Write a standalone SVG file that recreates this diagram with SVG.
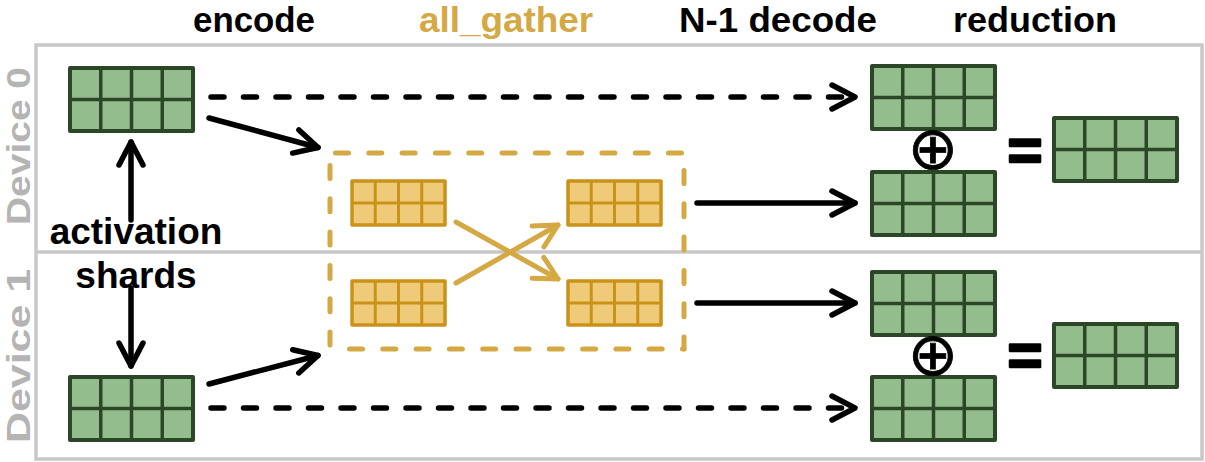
<svg xmlns="http://www.w3.org/2000/svg" xmlns:xlink="http://www.w3.org/1999/xlink" width="1205" height="462" viewBox="0 0 1205 462">
<style>
  .hdr{font-family:"Liberation Sans",Arial,sans-serif;font-weight:bold;font-size:34.5px;text-anchor:middle;fill:#000}
  .gold{fill:#D4A843}
  .dev{font-family:"Liberation Sans",Arial,sans-serif;font-weight:bold;font-size:32.5px;text-anchor:middle;fill:#B4B4B4}
  .lbl{font-family:"Liberation Sans",Arial,sans-serif;font-weight:bold;font-size:37px;text-anchor:middle;fill:#000}
  .sym{font-family:"Liberation Sans",Arial,sans-serif;font-weight:bold;font-size:60px;text-anchor:middle;fill:#000;stroke:#000;stroke-width:2.5;stroke-linejoin:round}
  .op{font-family:"DejaVu Sans",sans-serif;font-size:60px;text-anchor:middle;fill:#000;stroke:#000;stroke-width:0.8}
  .gcell{fill:#93BD8C;stroke:#2C4727;stroke-width:4;stroke-linejoin:round}
  .gline{stroke:#2C4727;stroke-width:3.5}
  .ycell{fill:#EFCA78;stroke:#C9931A;stroke-width:3.5;stroke-linejoin:round}
  .yline{stroke:#C9931A;stroke-width:3}
  .blk{fill:none;stroke:#000;stroke-width:5.5;stroke-linecap:round}
  .dash{stroke-dasharray:13 19.5}
  .gld{fill:none;stroke:#D4A843;stroke-width:5;stroke-linecap:round}
  .gbox{fill:none;stroke:#D4A843;stroke-width:5;stroke-linecap:round;stroke-dasharray:13 20.3}
  .frame{fill:none;stroke:#C8C8C8;stroke-width:3.5}
</style>
<defs>
  <g id="gblock">
    <rect class="gcell" x="0" y="0" width="123" height="63"/>
    <line class="gline" x1="30.75" y1="0" x2="30.75" y2="63"/>
    <line class="gline" x1="61.5" y1="0" x2="61.5" y2="63"/>
    <line class="gline" x1="92.25" y1="0" x2="92.25" y2="63"/>
    <line class="gline" x1="0" y1="31.5" x2="123" y2="31.5"/>
  </g>
  <g id="yblock">
    <rect class="ycell" x="0" y="0" width="93" height="44"/>
    <line class="yline" x1="23.25" y1="0" x2="23.25" y2="44"/>
    <line class="yline" x1="46.5" y1="0" x2="46.5" y2="44"/>
    <line class="yline" x1="69.75" y1="0" x2="69.75" y2="44"/>
    <line class="yline" x1="0" y1="22" x2="93" y2="22"/>
  </g>
  <marker id="ah" markerUnits="userSpaceOnUse" viewBox="-30 -16 34 32" refX="0" refY="0" markerWidth="34" markerHeight="32" orient="auto" overflow="visible">
    <path d="M-23,-12 L0,0 L-23,12" fill="none" stroke="#000" stroke-width="5.5" stroke-linecap="round" stroke-linejoin="round" stroke-dasharray="none"/>
  </marker>
  <marker id="ahg" markerUnits="userSpaceOnUse" viewBox="-30 -16 34 32" refX="0" refY="0" markerWidth="34" markerHeight="32" orient="auto" overflow="visible">
    <path d="M-23,-12 L0,0 L-23,12" fill="none" stroke="#D4A843" stroke-width="5" stroke-linecap="round" stroke-linejoin="round" stroke-dasharray="none"/>
  </marker>
</defs>

<rect width="1205" height="462" fill="#fff"/>

<g id="frame">
  <rect class="frame" x="36" y="45" width="1166" height="414"/>
  <line class="frame" x1="36" y1="252" x2="1202" y2="252"/>
  <text class="dev" transform="translate(29.5,146) rotate(-90)" textLength="158" lengthAdjust="spacingAndGlyphs">Device 0</text>
  <text class="dev" transform="translate(29.5,356) rotate(-90)" textLength="174" lengthAdjust="spacingAndGlyphs">Device 1</text>
</g>

<g id="headers">
  <text class="hdr" x="254" y="31.5" textLength="122" lengthAdjust="spacingAndGlyphs">encode</text>
  <text class="hdr gold" x="506" y="31.5" textLength="174" lengthAdjust="spacingAndGlyphs">all_gather</text>
  <text class="hdr" x="778" y="31.5" textLength="198" lengthAdjust="spacingAndGlyphs">N-1 decode</text>
  <text class="hdr" x="1035" y="31.5" textLength="164" lengthAdjust="spacingAndGlyphs">reduction</text>
</g>

<g id="label-activation">
  <text class="lbl" x="136" y="244">activation</text>
  <text class="lbl" x="136" y="288">shards</text>
</g>

<g id="allgather-box">
  <line class="gbox" x1="335.5" y1="153" x2="684" y2="153"/>
  <line class="gbox" x1="330" y1="165.5" x2="330" y2="349"/>
  <line class="gbox" x1="349.5" y1="349" x2="684" y2="349"/>
  <line class="gbox" x1="684" y1="170.5" x2="684" y2="349"/>
</g>

<g id="shard0"><use xlink:href="#gblock" x="70" y="68"/></g>
<g id="shard1"><use xlink:href="#gblock" x="70" y="377"/></g>

<g id="enc0"><use xlink:href="#yblock" x="352" y="181"/></g>
<g id="enc1"><use xlink:href="#yblock" x="352" y="281"/></g>
<g id="gath0"><use xlink:href="#yblock" x="568" y="181"/></g>
<g id="gath1"><use xlink:href="#yblock" x="568" y="281"/></g>

<g id="dev0-local"><use xlink:href="#gblock" x="872" y="66"/></g>
<g id="dev0-decoded"><use xlink:href="#gblock" x="872" y="172"/></g>
<g id="dev1-decoded"><use xlink:href="#gblock" x="872" y="272"/></g>
<g id="dev1-local"><use xlink:href="#gblock" x="872" y="377"/></g>

<g id="sum0">
  <text class="op" x="933" y="168.5">⊕</text>
  <text class="sym" x="1025" y="170">=</text>
</g>
<g id="sum1">
  <text class="op" x="933" y="374.5">⊕</text>
  <text class="sym" x="1025" y="375">=</text>
</g>

<g id="result0"><use xlink:href="#gblock" x="1054" y="118"/></g>
<g id="result1"><use xlink:href="#gblock" x="1054" y="324"/></g>

<g id="connectors">
  <line class="blk" x1="131" y1="220" x2="131" y2="142" marker-end="url(#ah)"/>
  <line class="blk" x1="131" y1="288" x2="131" y2="366" marker-end="url(#ah)"/>
  <line class="blk dash" x1="211" y1="97" x2="855" y2="97" marker-end="url(#ah)"/>
  <line class="blk dash" x1="211" y1="408" x2="855" y2="408" marker-end="url(#ah)"/>
  <line class="blk" x1="209" y1="118" x2="318" y2="147.5" marker-end="url(#ah)"/>
  <line class="blk" x1="209" y1="384" x2="318" y2="355.5" marker-end="url(#ah)"/>
  <line class="blk" x1="697" y1="203" x2="855" y2="203" marker-end="url(#ah)"/>
  <line class="blk" x1="697" y1="303" x2="855" y2="303" marker-end="url(#ah)"/>
  <line class="gld" x1="456" y1="222" x2="558" y2="279" marker-end="url(#ahg)"/>
  <line class="gld" x1="456" y1="283" x2="558" y2="225" marker-end="url(#ahg)"/>
</g>
</svg>
